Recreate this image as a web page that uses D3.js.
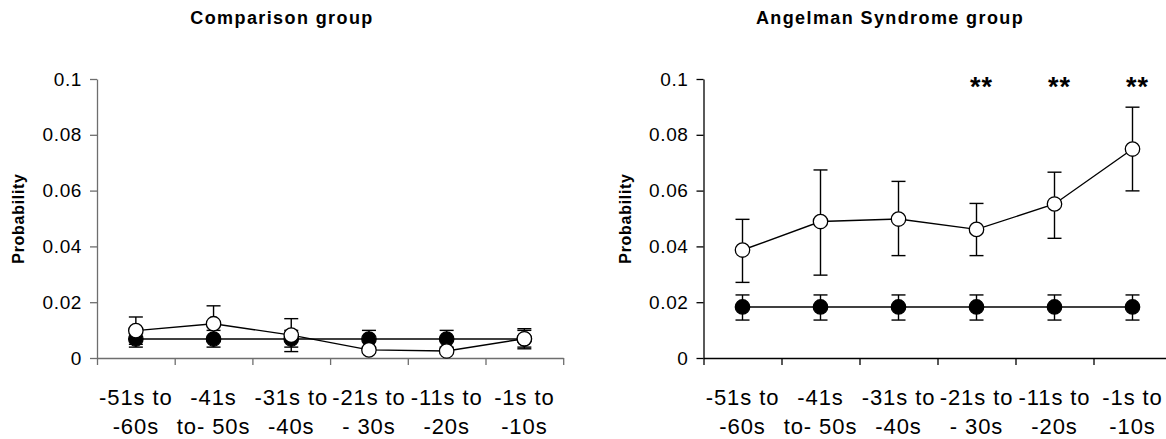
<!DOCTYPE html>
<html>
<head>
<meta charset="utf-8">
<script src="https://cdn.jsdelivr.net/npm/d3@7"></script>
<style>
  body { margin: 0; background: #fff; }
  svg { font-family: "Liberation Sans", Arial, sans-serif; }
</style>
</head>
<body>
<div id="chart"></div>
<script>
// categories (two text lines each)
var catLine1 = ["-51s to", "-41s", "-31s to", "-21s to", "-11s to", "-1s to"];
var catLine2 = ["-60s", "to- 50s", "-40s", "- 30s", "-20s", "-10s"];
var yTicks = [0, 0.02, 0.04, 0.06, 0.08, 0.1];

// Comparison group
var compFilled = [0.0068, 0.0068, 0.0068, 0.0068, 0.0068, 0.0068];
var compFilledHi = [0.0099, 0.0099, 0.0099, 0.0099, 0.0099, 0.0099];
var compFilledLo = [0.0039, 0.0039, 0.0039, 0.0039, 0.0039, 0.0039];
var compOpen = [0.0098, 0.0123, 0.0082, 0.0029, 0.0025, 0.0069];
var compOpenHi = [0.0147, 0.0187, 0.0141, 0.0040, 0.0034, 0.0105];
var compOpenLo = [0.0049, 0.0059, 0.0023, 0.0018, 0.0016, 0.0033];

// Angelman Syndrome group
var asFilled = [0.0183, 0.0183, 0.0183, 0.0183, 0.0183, 0.0183];
var asFilledHi = [0.0226, 0.0226, 0.0226, 0.0226, 0.0226, 0.0226];
var asFilledLo = [0.0136, 0.0136, 0.0136, 0.0136, 0.0136, 0.0136];
var asOpen = [0.0387, 0.0489, 0.0498, 0.0461, 0.0552, 0.0749];
var asOpenHi = [0.0497, 0.0674, 0.0633, 0.0554, 0.0666, 0.0899];
var asOpenLo = [0.0271, 0.0297, 0.0367, 0.0367, 0.0429, 0.0599];
var asStars = ["", "", "", "**", "**", "**"];

var svgWidth = 1166;
var svgHeight = 439;

var svg = d3.select("#chart")
  .append("svg")
  .attr("width", svgWidth)
  .attr("height", svgHeight);

function drawPanel(opts) {
  var g = svg.append("g");

  var x = d3.scaleLinear()
    .domain([0, catLine1.length])
    .range([opts.left, opts.left + opts.step * catLine1.length]);

  var y = d3.scaleLinear()
    .domain([0, 0.1])
    .range([358, 79]);

  // y axis
  var yAxis = g.append("g")
    .attr("transform", `translate(${opts.left}, 0)`)
    .call(d3.axisLeft(y)
      .tickValues(yTicks)
      .tickFormat(d => d === 0 ? "0" : String(+d.toFixed(2)))
      .tickSize(7)
      .tickSizeOuter(0)
      .tickPadding(8));

  // x axis, ticks at category edges
  var xAxis = g.append("g")
    .attr("transform", `translate(0, ${y(0)})`)
    .call(d3.axisBottom(x)
      .tickValues(d3.range(catLine1.length + 1))
      .tickFormat("")
      .tickSize(7)
      .tickSizeOuter(0));

  [yAxis, xAxis].forEach(function(a) {
    a.selectAll("path, line")
      .attr("stroke", opts.axisColor)
      .attr("stroke-width", 1.3);
  });
  yAxis.selectAll("text")
    .attr("font-size", 19)
    .attr("letter-spacing", 0.6)
    .attr("fill", "#000");

  // category labels
  var labels = g.append("g");
  catLine1.forEach(function(t, i) {
    var lab = labels.append("text")
      .attr("x", x(i + 0.5))
      .attr("y", 405)
      .attr("text-anchor", "middle")
      .attr("font-size", 22)
      .attr("letter-spacing", 0.9)
      .attr("fill", "#000");
    lab.append("tspan").attr("x", x(i + 0.5)).text(t);
    lab.append("tspan").attr("x", x(i + 0.5)).attr("dy", 29).text(catLine2[i]);
  });

  // titles
  g.append("text")
    .attr("x", opts.titleX)
    .attr("y", 24)
    .attr("text-anchor", "middle")
    .attr("font-size", 18)
    .attr("font-weight", "bold")
    .attr("letter-spacing", 1.4)
    .text(opts.title);

  g.append("text")
    .attr("transform", `translate(${opts.left - 73}, ${y(0.05)}) rotate(-90)`)
    .attr("text-anchor", "middle")
    .attr("font-size", 16)
    .attr("font-weight", "bold")
    .attr("letter-spacing", 0.7)
    .text("Probability");

  var line = d3.line()
    .x((d, i) => x(i + 0.5))
    .y(d => y(d));

  // one series: error bars, line, markers
  function drawSeries(vals, hi, lo, fill) {
    var s = g.append("g");
    var bars = s.selectAll("g.err")
      .data(vals)
      .enter()
      .append("g")
      .attr("stroke", "#000")
      .attr("stroke-width", 1.4);
    bars.append("line")
      .attr("x1", (d, i) => x(i + 0.5))
      .attr("x2", (d, i) => x(i + 0.5))
      .attr("y1", (d, i) => y(hi[i]))
      .attr("y2", (d, i) => y(lo[i]));
    bars.append("line")
      .attr("x1", (d, i) => x(i + 0.5) - 7)
      .attr("x2", (d, i) => x(i + 0.5) + 7)
      .attr("y1", (d, i) => y(hi[i]))
      .attr("y2", (d, i) => y(hi[i]));
    bars.append("line")
      .attr("x1", (d, i) => x(i + 0.5) - 7)
      .attr("x2", (d, i) => x(i + 0.5) + 7)
      .attr("y1", (d, i) => y(lo[i]))
      .attr("y2", (d, i) => y(lo[i]));

    s.append("path")
      .datum(vals)
      .attr("d", line)
      .attr("fill", "none")
      .attr("stroke", "#000")
      .attr("stroke-width", 1.4);

    s.selectAll("circle")
      .data(vals)
      .enter()
      .append("circle")
      .attr("cx", (d, i) => x(i + 0.5))
      .attr("cy", d => y(d))
      .attr("r", 7.2)
      .attr("fill", fill)
      .attr("stroke", "#000")
      .attr("stroke-width", 1.3);
  }

  drawSeries(opts.filled, opts.filledHi, opts.filledLo, "#000");
  drawSeries(opts.open, opts.openHi, opts.openLo, "#fff");

  // significance stars
  if (opts.stars) {
    g.selectAll("text.star")
      .data(opts.stars)
      .enter()
      .append("text")
      .attr("class", "star")
      .attr("x", (d, i) => x(i + 0.5) + 5)
      .attr("y", 96)
      .attr("text-anchor", "middle")
      .attr("font-size", 27)
      .attr("font-weight", "bold")
      .attr("letter-spacing", 1)
      .text(d => d);
  }
}

drawPanel({
  left: 97, step: 77.7, axisColor: "#6e6e6e",
  title: "Comparison group", titleX: 282,
  filled: compFilled, filledHi: compFilledHi, filledLo: compFilledLo,
  open: compOpen, openHi: compOpenHi, openLo: compOpenLo
});

drawPanel({
  left: 703.5, step: 78, axisColor: "#000",
  title: "Angelman Syndrome group", titleX: 890,
  filled: asFilled, filledHi: asFilledHi, filledLo: asFilledLo,
  open: asOpen, openHi: asOpenHi, openLo: asOpenLo,
  stars: asStars
});
</script>
</body>
</html>
